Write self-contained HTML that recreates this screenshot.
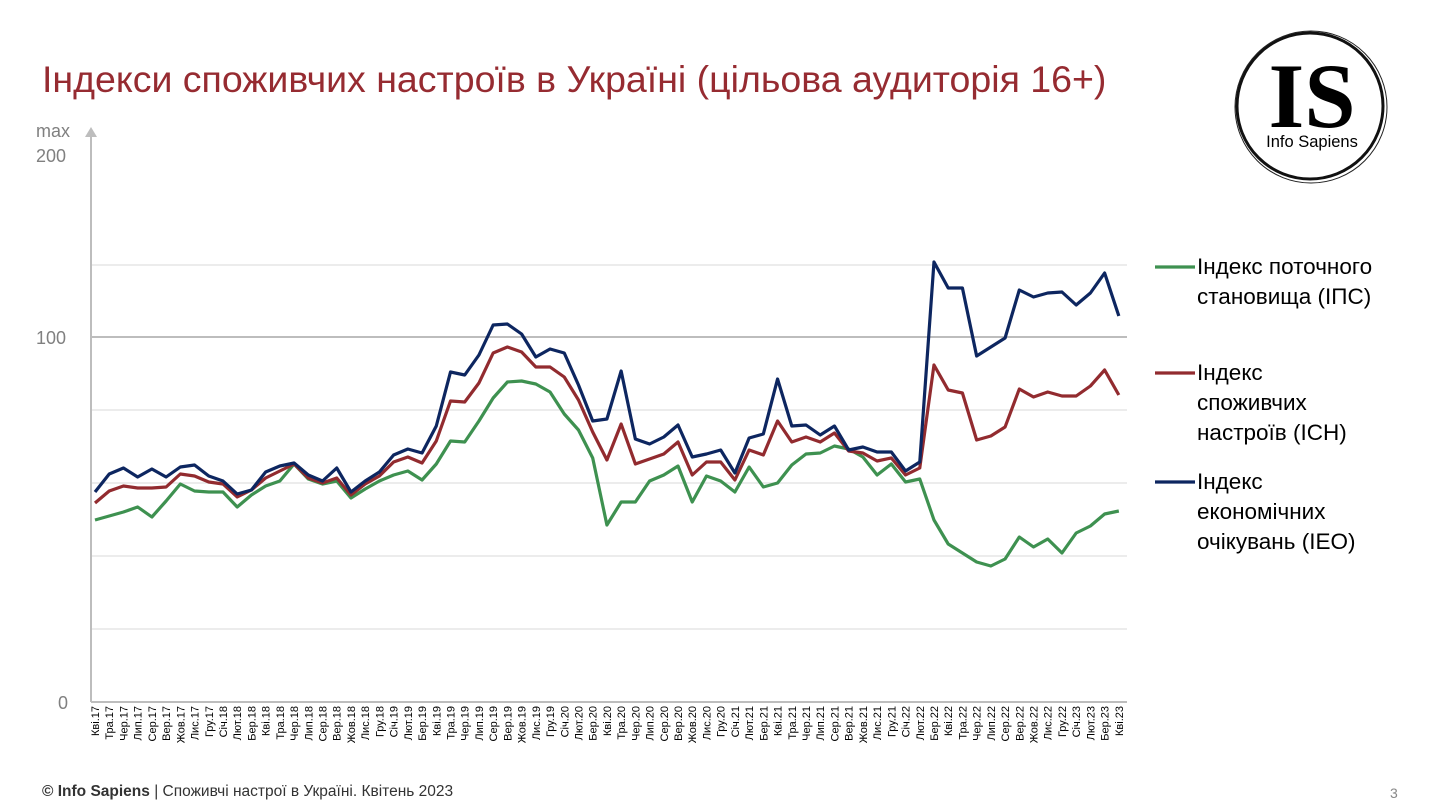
<!DOCTYPE html>
<html><head><meta charset="utf-8"><style>
body{margin:0;background:#fff;}
svg{display:block;font-family:"Liberation Sans",sans-serif;}
</style></head><body>
<svg width="1444" height="807" viewBox="0 0 1444 807" xmlns="http://www.w3.org/2000/svg">
<text x="42" y="92" font-size="37.5" fill="#962b31">Індекси споживчих настроїв в Україні (цільова аудиторія 16+)</text>
<!-- logo -->
<circle cx="1310" cy="106" r="73" fill="none" stroke="#111" stroke-width="3"/>
<circle cx="1311" cy="107" r="76" fill="none" stroke="#222" stroke-width="1"/>
<text x="1312" y="127" font-family="Liberation Serif,serif" font-weight="bold" font-size="92" text-anchor="middle" fill="#000">IS</text>
<text x="1312" y="147" font-size="16.5" text-anchor="middle" fill="#000">Info Sapiens</text>
<!-- grid -->
<g stroke="#e6e6e6" stroke-width="1.5">
<line x1="91" y1="265" x2="1127" y2="265"/><line x1="91" y1="410" x2="1127" y2="410"/>
<line x1="91" y1="483" x2="1127" y2="483"/><line x1="91" y1="556" x2="1127" y2="556"/>
<line x1="91" y1="629" x2="1127" y2="629"/>
</g>
<line x1="91" y1="337" x2="1127" y2="337" stroke="#bdbdbd" stroke-width="2"/>
<line x1="91" y1="702" x2="1127" y2="702" stroke="#bdbdbd" stroke-width="2"/>
<line x1="91" y1="136" x2="91" y2="702" stroke="#bdbdbd" stroke-width="2"/>
<polygon points="85,137 91,127 97,137" fill="#bdbdbd"/>
<g font-size="18" fill="#808080">
<text x="36" y="137">max</text><text x="36" y="162">200</text>
<text x="36" y="344">100</text><text x="58" y="709">0</text>
</g>
<g transform="translate(95,0) scale(14.22,1)" fill="none" stroke-width="3.2" stroke-linejoin="round">
<polyline vector-effect="non-scaling-stroke" stroke="#3e9150" points="0,520 1,516 2,512 3,507 4,517 5,501 6,484 7,491 8,492 9,492 10,507 11,495 12,486 13,481 14,464 15,479 16,484 17,481 18,498 19,489 20,481 21,475 22,471 23,480 24,464 25,441 26,442 27,421 28,398 29,382 30,381 31,384 32,392 33,414 34,430 35,458 36,525 37,502 38,502 39,481 40,475 41,466 42,502 43,476 44,481 45,492 46,467 47,487 48,483 49,465 50,454 51,453 52,446 53,449 54,457 55,475 56,464 57,482 58,479 59,520 60,544 61,553 62,562 63,566 64,559 65,537 66,547 67,539 68,553 69,533 70,526 71,514 72,511"/>
<polyline vector-effect="non-scaling-stroke" stroke="#922b2f" points="0,503 1,491 2,486 3,488 4,488 5,487 6,474 7,476 8,482 9,484 10,497 11,490 12,478 13,471 14,464 15,478 16,483 17,478 18,495 19,484 20,476 21,462 22,457 23,463 24,441 25,401 26,402 27,383 28,353 29,347 30,352 31,367 32,367 33,377 34,400 35,432 36,460 37,424 38,464 39,459 40,454 41,442 42,475 43,462 44,462 45,480 46,450 47,455 48,421 49,442 50,437 51,442 52,433 53,451 54,453 55,461 56,458 57,475 58,468 59,365 60,390 61,393 62,440 63,436 64,427 65,389 66,397 67,392 68,396 69,396 70,386 71,370 72,395"/>
<polyline vector-effect="non-scaling-stroke" stroke="#0d2660" points="0,492 1,474 2,468 3,477 4,469 5,477 6,467 7,465 8,476 9,481 10,494 11,490 12,472 13,466 14,463 15,475 16,481 17,468 18,492 19,481 20,472 21,455 22,449 23,453 24,426 25,372 26,375 27,355 28,325 29,324 30,334 31,357 32,349 33,353 34,385 35,421 36,419 37,371 38,439 39,444 40,437 41,425 42,457 43,454 44,450 45,473 46,438 47,434 48,379 49,426 50,425 51,435 52,426 53,450 54,447 55,452 56,452 57,471 58,462 59,262 60,288 61,288 62,356 63,347 64,338 65,290 66,297 67,293 68,292 69,305 70,293 71,273 72,316"/>
</g>
<!-- x labels -->
<g font-size="11" fill="#000" text-anchor="end">
<text transform="translate(99,706) rotate(-90)">Кві.17</text>
<text transform="translate(113.2,706) rotate(-90)">Тра.17</text>
<text transform="translate(127.4,706) rotate(-90)">Чер.17</text>
<text transform="translate(141.7,706) rotate(-90)">Лип.17</text>
<text transform="translate(155.9,706) rotate(-90)">Сер.17</text>
<text transform="translate(170.1,706) rotate(-90)">Вер.17</text>
<text transform="translate(184.3,706) rotate(-90)">Жов.17</text>
<text transform="translate(198.5,706) rotate(-90)">Лис.17</text>
<text transform="translate(212.8,706) rotate(-90)">Гру.17</text>
<text transform="translate(227,706) rotate(-90)">Січ.18</text>
<text transform="translate(241.2,706) rotate(-90)">Лют.18</text>
<text transform="translate(255.4,706) rotate(-90)">Бер.18</text>
<text transform="translate(269.6,706) rotate(-90)">Кві.18</text>
<text transform="translate(283.9,706) rotate(-90)">Тра.18</text>
<text transform="translate(298.1,706) rotate(-90)">Чер.18</text>
<text transform="translate(312.3,706) rotate(-90)">Лип.18</text>
<text transform="translate(326.5,706) rotate(-90)">Сер.18</text>
<text transform="translate(340.7,706) rotate(-90)">Вер.18</text>
<text transform="translate(355,706) rotate(-90)">Жов.18</text>
<text transform="translate(369.2,706) rotate(-90)">Лис.18</text>
<text transform="translate(383.4,706) rotate(-90)">Гру.18</text>
<text transform="translate(397.6,706) rotate(-90)">Січ.19</text>
<text transform="translate(411.8,706) rotate(-90)">Лют.19</text>
<text transform="translate(426.1,706) rotate(-90)">Бер.19</text>
<text transform="translate(440.3,706) rotate(-90)">Кві.19</text>
<text transform="translate(454.5,706) rotate(-90)">Тра.19</text>
<text transform="translate(468.7,706) rotate(-90)">Чер.19</text>
<text transform="translate(482.9,706) rotate(-90)">Лип.19</text>
<text transform="translate(497.2,706) rotate(-90)">Сер.19</text>
<text transform="translate(511.4,706) rotate(-90)">Вер.19</text>
<text transform="translate(525.6,706) rotate(-90)">Жов.19</text>
<text transform="translate(539.8,706) rotate(-90)">Лис.19</text>
<text transform="translate(554,706) rotate(-90)">Гру.19</text>
<text transform="translate(568.3,706) rotate(-90)">Січ.20</text>
<text transform="translate(582.5,706) rotate(-90)">Лют.20</text>
<text transform="translate(596.7,706) rotate(-90)">Бер.20</text>
<text transform="translate(610.9,706) rotate(-90)">Кві.20</text>
<text transform="translate(625.1,706) rotate(-90)">Тра.20</text>
<text transform="translate(639.4,706) rotate(-90)">Чер.20</text>
<text transform="translate(653.6,706) rotate(-90)">Лип.20</text>
<text transform="translate(667.8,706) rotate(-90)">Сер.20</text>
<text transform="translate(682,706) rotate(-90)">Вер.20</text>
<text transform="translate(696.2,706) rotate(-90)">Жов.20</text>
<text transform="translate(710.5,706) rotate(-90)">Лис.20</text>
<text transform="translate(724.7,706) rotate(-90)">Гру.20</text>
<text transform="translate(738.9,706) rotate(-90)">Січ.21</text>
<text transform="translate(753.1,706) rotate(-90)">Лют.21</text>
<text transform="translate(767.3,706) rotate(-90)">Бер.21</text>
<text transform="translate(781.6,706) rotate(-90)">Кві.21</text>
<text transform="translate(795.8,706) rotate(-90)">Тра.21</text>
<text transform="translate(810,706) rotate(-90)">Чер.21</text>
<text transform="translate(824.2,706) rotate(-90)">Лип.21</text>
<text transform="translate(838.4,706) rotate(-90)">Сер.21</text>
<text transform="translate(852.7,706) rotate(-90)">Вер.21</text>
<text transform="translate(866.9,706) rotate(-90)">Жов.21</text>
<text transform="translate(881.1,706) rotate(-90)">Лис.21</text>
<text transform="translate(895.3,706) rotate(-90)">Гру.21</text>
<text transform="translate(909.5,706) rotate(-90)">Січ.22</text>
<text transform="translate(923.8,706) rotate(-90)">Лют.22</text>
<text transform="translate(938,706) rotate(-90)">Бер.22</text>
<text transform="translate(952.2,706) rotate(-90)">Кві.22</text>
<text transform="translate(966.4,706) rotate(-90)">Тра.22</text>
<text transform="translate(980.6,706) rotate(-90)">Чер.22</text>
<text transform="translate(994.9,706) rotate(-90)">Лип.22</text>
<text transform="translate(1009.1,706) rotate(-90)">Сер.22</text>
<text transform="translate(1023.3,706) rotate(-90)">Вер.22</text>
<text transform="translate(1037.5,706) rotate(-90)">Жов.22</text>
<text transform="translate(1051.7,706) rotate(-90)">Лис.22</text>
<text transform="translate(1066,706) rotate(-90)">Гру.22</text>
<text transform="translate(1080.2,706) rotate(-90)">Січ.23</text>
<text transform="translate(1094.4,706) rotate(-90)">Лют.23</text>
<text transform="translate(1108.6,706) rotate(-90)">Бер.23</text>
<text transform="translate(1122.8,706) rotate(-90)">Кві.23</text>
</g>
<!-- legend -->
<g stroke-width="3.2">
<line x1="1155" y1="267" x2="1195" y2="267" stroke="#3e9150"/>
<line x1="1155" y1="373" x2="1195" y2="373" stroke="#922b2f"/>
<line x1="1155" y1="482" x2="1195" y2="482" stroke="#0d2660"/>
</g>
<g font-size="22.5" fill="#000">
<text x="1197" y="274">Індекс поточного</text>
<text x="1197" y="304">становища (ІПС)</text>
<text x="1197" y="380">Індекс</text>
<text x="1197" y="410">споживчих</text>
<text x="1197" y="440">настроїв (ICH)</text>
<text x="1197" y="489">Індекс</text>
<text x="1197" y="519">економічних</text>
<text x="1197" y="549">очікувань (ІЕО)</text>
</g>
<text x="42" y="796" font-size="15.5" fill="#333"><tspan font-weight="bold">© Info Sapiens</tspan> | Споживчі настрої в Україні. Квітень 2023</text>
<text x="1390" y="798" font-size="14" fill="#888">3</text>
</svg>
</body></html>
